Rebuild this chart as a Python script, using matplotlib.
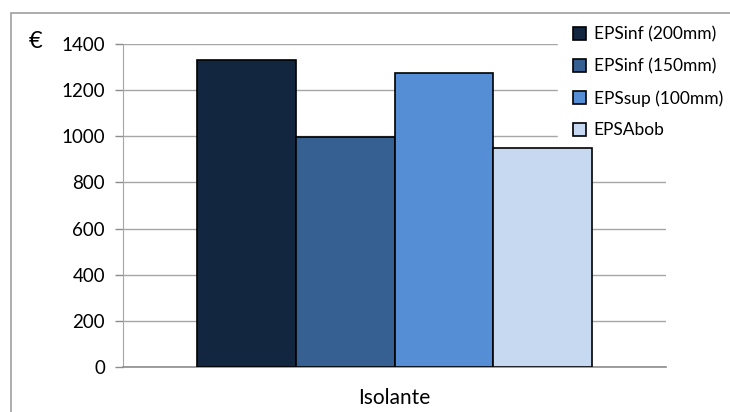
import matplotlib.pyplot as plt
from matplotlib.patches import Rectangle

# Custo por solução de isolamento (€)
series = ["EPSinf (200mm)", "EPSinf (150mm)", "EPSsup (100mm)", "EPSAbob"]
values = [1330, 995, 1275, 950]
colors = ["#13263f", "#376092", "#558ed5", "#c6d9f1"]
category = "Isolante"
yticks = [0, 200, 400, 600, 800, 1000, 1200, 1400]

plt.rcParams['font.family'] = ['Lato', 'DejaVu Sans']

W, H = 730, 412
fig = plt.figure(figsize=(W / 100, H / 100), dpi=100)

# chart frame (top and left edges visible)
fig.patches.append(Rectangle((11 / W, -0.1), 1.2, 1 - 13 / H + 0.1,
                             transform=fig.transFigure, fill=False,
                             edgecolor="#a0a0a0", linewidth=1.2, zorder=0))

left, right, bottom, top = 123, 666, 367, 44
ax = fig.add_axes([left / W, 1 - bottom / H, (right - left) / W, (bottom - top) / H])

barWidth = 0.182
n = len(values)
for i, (name, v, c) in enumerate(zip(series, values, colors)):
    x = (i - (n - 1) / 2) * barWidth
    ax.bar(x, v, width=barWidth, color=c, edgecolor="black", linewidth=1.2,
           label=name, zorder=3)

ax.set_xlim(-0.5, 0.5)
ax.set_ylim(0, 1400)
ax.set_yticks(yticks)
ax.set_yticklabels([str(t) for t in yticks], fontsize=13.5)
ax.yaxis.grid(True, color="#a6a6a6", linewidth=1.0, zorder=0)
ax.set_axisbelow(True)
ax.tick_params(axis="y", length=6, width=1.0, color="#8c8c8c", pad=7)
ax.set_xticks([])

for s in ["top", "right"]:
    ax.spines[s].set_visible(False)
ax.spines["left"].set_color("#a6a6a6")
ax.spines["bottom"].set_color("#8c8c8c")
ax.spines["bottom"].set_linewidth(1.2)

ax.text(0.5, -0.095, category, transform=ax.transAxes, ha="center", va="center",
        fontsize=15)
fig.text(36 / W, 1 - 41 / H, "€", ha="center", va="center", fontsize=17)

leg = ax.legend(loc="upper left", bbox_to_anchor=((558 - left) / (right - left), 1.10),
                frameon=True, fontsize=12.5, handlelength=0.75, handleheight=0.75,
                handletextpad=0.45, labelspacing=0.9, borderaxespad=0,
                borderpad=0.86)
leg.get_frame().set_edgecolor("white")
leg.get_frame().set_facecolor("white")
leg.get_frame().set_alpha(1)
leg.set_zorder(2.5)  # hides gridlines, stays under the bars
for h in leg.legend_handles:
    h.set_linewidth(1.2)

fig.savefig("out.png", dpi=100)
